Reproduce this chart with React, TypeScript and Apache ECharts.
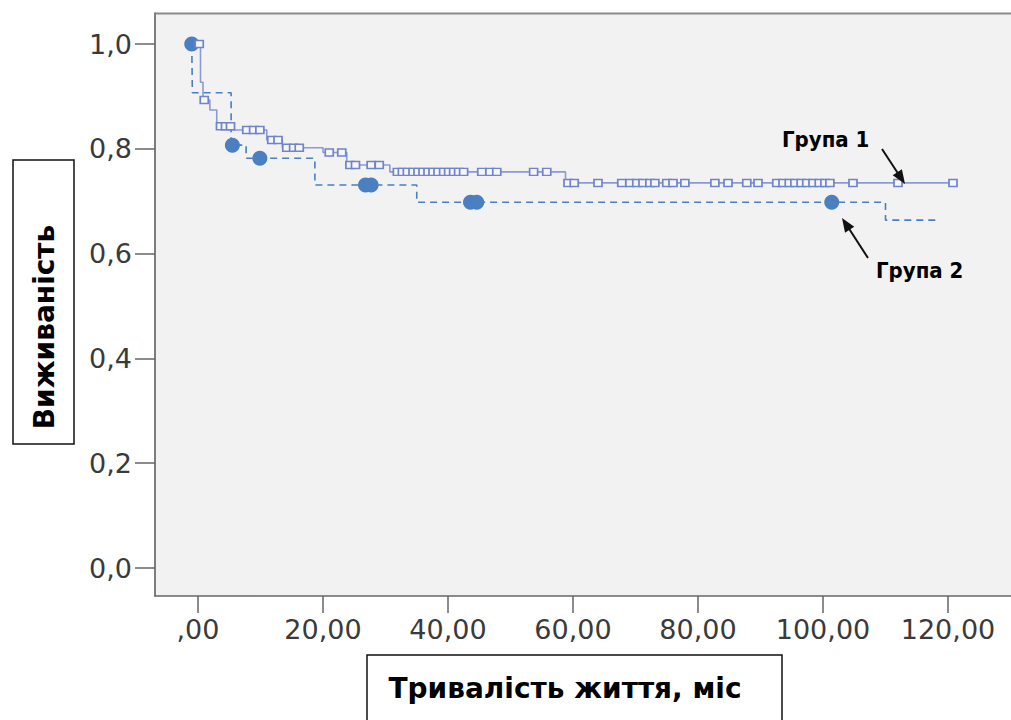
import React, { useEffect, useRef } from "react";
import * as echarts from "echarts";

// Group 1 (solid line, hollow square censor marks) – Kaplan–Meier steps
const g1Times = [0, 0.4, 0.8, 1.9, 3.0, 5.6, 11.0, 13.5, 20.0, 23.8, 30.7, 58.8, 120.8];
const g1Surv = [1.0, 0.927, 0.893, 0.874, 0.843, 0.836, 0.817, 0.802, 0.793, 0.769, 0.756, 0.735, 0.735];
const g1Censor = [
  0.2, 1.0, 3.6, 4.4, 5.2, 7.8, 8.9, 9.9, 11.8, 12.8, 14.2, 15.3, 16.2, 21.0, 23.0,
  24.3, 25.2, 27.7, 29.0,
  31.9, 32.7, 33.5, 34.4, 35.2, 36.0, 36.8, 37.6, 38.4, 39.3, 40.1, 40.9, 41.7, 42.5,
  45.4, 46.7, 47.8, 53.7, 55.8,
  59.2, 60.2, 64.0, 67.8, 69.1, 70.2, 71.2, 72.3, 73.1, 75.0, 76.0, 77.9, 82.7, 84.8, 87.8, 89.6,
  92.6, 93.6, 94.6, 95.5, 96.5, 97.4, 98.4, 99.4, 100.3, 101.1, 104.8, 112.0, 120.8,
];

// Group 2 (dashed line, filled circle censor marks)
const g2Times = [-1.0, -0.9, 5.3, 7.7, 18.7, 35.0, 110.0, 118.0];
const g2Surv = [1.0, 0.907, 0.807, 0.782, 0.731, 0.698, 0.664, 0.664];
const g2Censor = [-1.0, 5.5, 9.9, 26.8, 27.7, 43.6, 44.6, 101.4];

const xTicks = [0, 20, 40, 60, 80, 100, 120];
const xTickLabels = [",00", "20,00", "40,00", "60,00", "80,00", "100,00", "120,00"];
const yTicks = [0, 0.2, 0.4, 0.6, 0.8, 1.0];
const yTickLabels = ["0,0", "0,2", "0,4", "0,6", "0,8", "1,0"];

const xTitle = "Тривалість життя, міс";
const yTitle = "Виживаність";
const label1 = "Група 1";
const label2 = "Група 2";

function survAt(times: number[], surv: number[], t: number) {
  let s = surv[0];
  for (let i = 0; i < times.length; i++) {
    if (times[i] <= t) s = surv[i];
  }
  return s;
}

function arrowHead(x1: number, y1: number, x2: number, y2: number, len: number, w: number) {
  const dx = x2 - x1, dy = y2 - y1;
  const d = Math.sqrt(dx * dx + dy * dy);
  const ux = dx / d, uy = dy / d;
  const bx = x2 - ux * len, by = y2 - uy * len;
  return [
    [x2, y2],
    [bx - uy * w / 2, by + ux * w / 2],
    [bx + uy * w / 2, by - ux * w / 2],
  ];
}

function nearestIndex(arr: number[], v: number) {
  for (let i = 0; i < arr.length; i++) if (Math.abs(arr[i] - v) < 1e-6) return i;
  return -1;
}

export default function App() {
  const ref = useRef<HTMLDivElement>(null);
  useEffect(() => {
    if (!ref.current) return;
    const chart = echarts.init(ref.current, null, { renderer: "svg" });
    const line1 = g1Times.map((t, i) => [t, g1Surv[i]]);
    const line2 = g2Times.map((t, i) => [t, g2Surv[i]]);
    const cens1 = g1Censor.map((t) => [t, survAt(g1Times, g1Surv, t)]);
    const cens2 = g2Censor.map((t) => [t, survAt(g2Times, g2Surv, t)]);

    const a1 = { x1: 882, y1: 149, x2: 905, y2: 184 };
    const a2 = { x1: 868, y1: 258, x2: 842, y2: 218 };

    chart.setOption({
      animation: false,
      backgroundColor: "#ffffff",
      grid: {
        left: 155,
        right: 0,
        top: 13,
        bottom: 124,
        containLabel: false,
        show: true,
        backgroundColor: "#f2f2f2",
        borderWidth: 0,
      },
      xAxis: {
        type: "value",
        min: -6.88,
        max: 130.08,
        axisLine: { show: true, onZero: false, lineStyle: { color: "#666", width: 1.5 } },
        axisTick: {
          show: true,
          length: 17,
          customValues: xTicks,
          lineStyle: { color: "#666", width: 1.5 },
        },
        splitLine: { show: false },
        axisLabel: {
          margin: 20,
          customValues: xTicks,
          fontFamily: "DejaVu Sans",
          fontSize: 27,
          color: "#3a3a3a",
          formatter: (v: number) => {
            const i = nearestIndex(xTicks, v);
            return i >= 0 ? xTickLabels[i] : "";
          },
        },
      },
      yAxis: {
        type: "value",
        min: -0.0534,
        max: 1.0592,
        axisLine: { show: true, onZero: false, lineStyle: { color: "#555", width: 1.5 } },
        axisTick: {
          show: true,
          length: 20,
          customValues: yTicks,
          lineStyle: { color: "#666", width: 1.5 },
        },
        splitLine: { show: false },
        axisLabel: {
          margin: 23,
          customValues: yTicks,
          fontFamily: "DejaVu Sans",
          fontSize: 27,
          color: "#3a3a3a",
          formatter: (v: number) => {
            const i = nearestIndex(yTicks, v);
            return i >= 0 ? yTickLabels[i] : "";
          },
        },
      },
      graphic: [
        {
          type: "line",
          z: 50,
          shape: { x1: 155, y1: 13.5, x2: 1011, y2: 13.5 },
          style: { stroke: "#8a8a8a", lineWidth: 2 },
        },
        {
          type: "rect",
          z: 100,
          shape: { x: 13, y: 160, width: 61, height: 284 },
          style: { fill: "#ffffff", stroke: "#111", lineWidth: 1.5 },
        },
        {
          type: "text",
          z: 101,
          x: 44,
          y: 327,
          rotation: Math.PI / 2,
          style: {
            text: yTitle,
            fontFamily: "DejaVu Sans",
            fontWeight: "bold",
            fontSize: 28,
            fill: "#000",
            align: "center",
            verticalAlign: "middle",
          },
        },
        {
          type: "rect",
          z: 100,
          shape: { x: 367, y: 655, width: 415, height: 80 },
          style: { fill: "#ffffff", stroke: "#111", lineWidth: 1.5 },
        },
        {
          type: "text",
          z: 101,
          x: 565,
          y: 688,
          style: {
            text: xTitle,
            fontFamily: "DejaVu Sans",
            fontWeight: "bold",
            fontSize: 28,
            fill: "#000",
            align: "center",
            verticalAlign: "middle",
          },
        },
        {
          type: "text",
          z: 101,
          x: 782,
          y: 139,
          style: {
            text: label1,
            fontFamily: "'DejaVu Sans Condensed', 'DejaVu Sans'",
            fontWeight: "bold",
            fontSize: 22,
            fill: "#000",
            align: "left",
            verticalAlign: "middle",
          },
        },
        {
          type: "text",
          z: 101,
          x: 876,
          y: 270,
          style: {
            text: label2,
            fontFamily: "'DejaVu Sans Condensed', 'DejaVu Sans'",
            fontWeight: "bold",
            fontSize: 22,
            fill: "#000",
            align: "left",
            verticalAlign: "middle",
          },
        },
        {
          type: "line",
          z: 101,
          shape: { x1: a1.x1, y1: a1.y1, x2: a1.x2 - 4, y2: a1.y2 - 6 },
          style: { stroke: "#111", lineWidth: 2 },
        },
        {
          type: "polygon",
          z: 101,
          shape: { points: arrowHead(a1.x1, a1.y1, a1.x2, a1.y2, 14, 11) },
          style: { fill: "#111" },
        },
        {
          type: "line",
          z: 101,
          shape: { x1: a2.x1, y1: a2.y1, x2: a2.x2 + 4, y2: a2.y2 + 6 },
          style: { stroke: "#111", lineWidth: 2 },
        },
        {
          type: "polygon",
          z: 101,
          shape: { points: arrowHead(a2.x1, a2.y1, a2.x2, a2.y2, 14, 11) },
          style: { fill: "#111" },
        },
      ],
      series: [
        {
          type: "line",
          name: "Група 2",
          data: line2,
          step: "end",
          symbol: "none",
          clip: false,
          z: 2,
          lineStyle: { color: "#4a7fc1", width: 1.6, type: [7, 5] },
        },
        {
          type: "line",
          name: "Група 1",
          data: line1,
          step: "end",
          symbol: "none",
          clip: false,
          z: 3,
          lineStyle: { color: "#8a9ad6", width: 1.6 },
        },
        {
          type: "scatter",
          data: cens2,
          symbol: "circle",
          symbolSize: 15,
          clip: false,
          z: 4,
          itemStyle: { color: "#4a7fc1", opacity: 1 },
        },
        {
          type: "scatter",
          data: cens1,
          symbol: "rect",
          symbolSize: [8, 7],
          clip: false,
          z: 5,
          itemStyle: { color: "#f6f6fa", borderColor: "#6f84c9", borderWidth: 1.6, opacity: 1 },
        },
      ],
    });
    return () => chart.dispose();
  }, []);
  return (
    <div
      ref={ref}
      style={{ position: "fixed", left: 0, top: 0, width: 1011, height: 720 }}
    />
  );
}
